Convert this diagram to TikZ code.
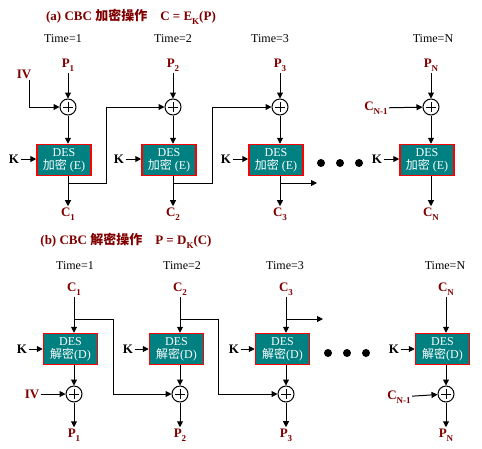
\documentclass[tikz,border=0pt]{standalone}
\usepackage{fontspec}
\setmainfont{Liberation Serif}
\newfontfamily\cjk{Noto Sans CJK SC}
\usetikzlibrary{arrows.meta}
\definecolor{darkred}{RGB}{128,0,0}
\definecolor{desteal}{RGB}{0,128,128}
\newcommand{\sub}[2]{#1\raisebox{-4pt}{\fontsize{9}{9}\selectfont #2}}
\begin{document}
\begin{tikzpicture}[x=1pt,y=-1pt,line width=1pt,
  arr/.style={-{Triangle[length=6pt,width=6pt]}},
  lbl/.style={text=darkred,font=\fontsize{13}{15}\selectfont\bfseries,inner sep=1pt},
  ttl/.style={text=darkred,font=\fontsize{13}{15}\selectfont\bfseries},
  tim/.style={font=\fontsize{12}{14}\selectfont},
  kk/.style={font=\fontsize{13}{15}\selectfont\bfseries,inner sep=1pt},
  des/.style={draw=red,line width=1.5pt,fill=desteal,text=white,align=center,
    minimum width=54pt,minimum height=31pt,inner sep=0pt,
    font=\fontsize{12}{13}\selectfont},
  xor/.style={circle,draw,minimum size=16pt,inner sep=0pt,
    path picture={\draw[line width=0.8pt] ([yshift=-3pt]path picture bounding box.north) -- ([yshift=3pt]path picture bounding box.south);
      \draw[line width=0.8pt] ([xshift=3pt]path picture bounding box.west) -- ([xshift=-3pt]path picture bounding box.east);}}]
\useasboundingbox (0,0) rectangle (482,448);

% (a) encryption
\node[ttl] (titlea) at (131,17) {(a) CBC {\cjk 加密操作}\quad C = \sub{E}{K}(P)};
\foreach \i/\x/\t in {1/68/63,2/173/173,3/280/270,N/431/433}{
  \node[tim] (ta\i) at (\t,39) {Time=\i};
  \node[lbl] (pa\i) at (\x,65) {\sub{P}{\i}};
  \node[xor] (xa\i) at (\x,107) {};
  \node[des] (ea\i) at ({\x-4},160) {DES\\{\cjk 加密} (E)};
  \node[kk] (ka\i) at ({\x-54},159) {K};
  \node[lbl] (ca\i) at (\x,214) {\sub{C}{\i}};
  \coordinate (fa\i) at (\x,183);
  \draw[arr] (pa\i) -- (xa\i);
  \draw[arr] (xa\i) -- (xa\i |- ea\i.north);
  \draw[arr] (xa\i |- ea\i.south) -- (ca\i);
  \draw[arr] (ka\i) -- (ka\i -| ea\i.west);
}
\node[lbl] (iva) at (24,74) {IV};
\draw[arr] ([xshift=5pt]iva.south) |- (xa1);
\draw[arr] (fa1) -- (106,183) |- (xa2);
\draw[arr] (fa2) -- (212,183) |- (xa3);
\draw[arr] (fa3) -- ++(37,0);
\node[lbl] (cna) at (376,108) {\sub{C}{N-1}};
\draw[arr] (cna) -- (xaN);
\foreach \d in {321,340,359} \fill (\d,163) circle (4pt);

% (b) decryption
\node[ttl] (titleb) at (126,241) {(b) CBC {\cjk 解密操作}\quad P = \sub{D}{K}(C)};
\foreach \i/\x/\t in {1/74/75,2/180/182,3/286/285,N/446/445}{
  \node[tim] (tb\i) at (\t,266) {Time=\i};
  \node[lbl] (cb\i) at (\x,289) {\sub{C}{\i}};
  \node[des] (db\i) at ({\x-3.5},349) {DES\\{\cjk 解密}(D)};
  \node[kk] (kb\i) at ({\x-52},349) {K};
  \node[xor] (xb\i) at (\x,394) {};
  \node[lbl] (pb\i) at (\x,435) {\sub{P}{\i}};
  \coordinate (bb\i) at (\x,319);
  \draw[arr] (cb\i) -- (cb\i |- db\i.north);
  \draw[arr] (cb\i |- db\i.south) -- (xb\i);
  \draw[arr] (xb\i) -- (pb\i);
  \draw[arr] (kb\i) -- (kb\i -| db\i.west);
}
\node[lbl] (ivb) at (32,394) {IV};
\draw[arr] (ivb) -- (xb1);
\draw[arr] (bb1) -- (113,319) |- (xb2);
\draw[arr] (bb2) -- (218,319) |- (xb3);
\draw[arr] (bb3) -- ++(37,0);
\node[lbl] (cnb) at (399,397) {\sub{C}{N-1}};
\draw[arr] (cnb) -- (xbN);
\foreach \d in {328,347,366} \fill (\d,353) circle (4pt);
\end{tikzpicture}
\end{document}
